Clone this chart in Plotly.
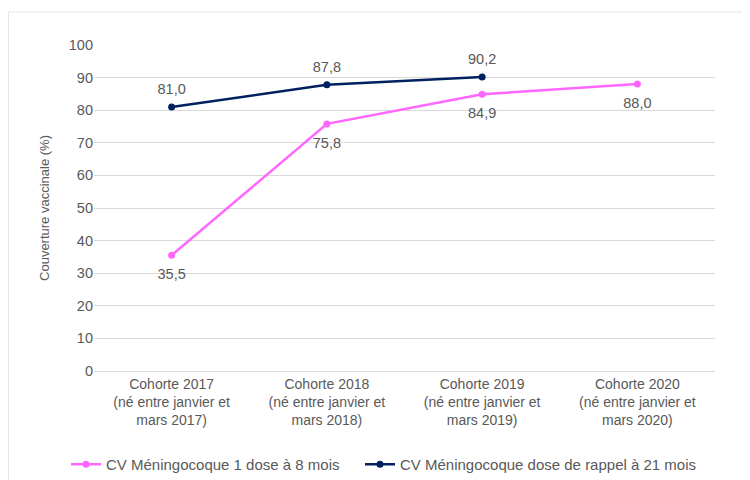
import plotly.graph_objects as go

categories = [
    "Cohorte 2017<br>(né entre janvier et<br>mars 2017)",
    "Cohorte 2018<br>(né entre janvier et<br>mars 2018)",
    "Cohorte 2019<br>(né entre janvier et<br>mars 2019)",
    "Cohorte 2020<br>(né entre janvier et<br>mars 2020)",
]
dose1_values = [35.5, 75.8, 84.9, 88.0]
rappel_categories = categories[:3]
rappel_values = [81.0, 87.8, 90.2]

def fr(v):
    return f"{v:.1f}".replace(".", ",")

font_color = "#595959"
fs = 14.5
PINK, NAVY = "#FF66FF", "#002060"
# page body has an 8px margin, so figure coordinates are offset by 8px
L, R, T, B = 86, 43, 37, 117
W, H = 750, 480
pw, ph = W - L - R, H - T - B
bottom = T + ph

fig = go.Figure()
fig.add_trace(go.Scatter(
    x=categories, y=dose1_values, mode="lines+markers",
    name="CV Méningocoque 1 dose à 8 mois", legend="legend",
    line=dict(color=PINK, width=2.5), marker=dict(size=7, color=PINK),
))
fig.add_trace(go.Scatter(
    x=rappel_categories, y=rappel_values, mode="lines+markers",
    name="CV Méningocoque dose de rappel à 21 mois", legend="legend2",
    line=dict(color=NAVY, width=2.5), marker=dict(size=7, color=NAVY),
))
# data labels (transparent markers to set the label offset)
fig.add_trace(go.Scatter(
    x=categories, y=dose1_values, mode="markers+text", showlegend=False,
    marker=dict(size=19, color="rgba(0,0,0,0)"), hoverinfo="skip",
    text=[fr(v) for v in dose1_values], textposition="bottom center",
    textfont=dict(size=fs, color=font_color),
))
fig.add_trace(go.Scatter(
    x=rappel_categories, y=rappel_values, mode="markers+text", showlegend=False,
    marker=dict(size=13, color="rgba(0,0,0,0)"), hoverinfo="skip",
    text=[fr(v) for v in rappel_values], textposition="top center",
    textfont=dict(size=fs, color=font_color),
))

legend_common = dict(orientation="h", xanchor="left",
                     y=-(440 - bottom) / ph, yanchor="top",
                     font=dict(size=15, color=font_color), itemwidth=30,
                     bgcolor="rgba(0,0,0,0)")

fig.update_layout(
    width=W, height=H,
    margin=dict(l=L, r=R, t=T, b=B, autoexpand=False),
    paper_bgcolor="white", plot_bgcolor="white",
    font=dict(family="Liberation Sans, Arial, sans-serif", size=fs, color=font_color),
    showlegend=True,
    legend=dict(x=(58 - L) / pw, **legend_common),
    legend2=dict(x=(352 - L) / pw, **legend_common),
    xaxis=dict(type="category", range=[-0.5, 3.5], showgrid=False,
               showline=True, linecolor="#d9d9d9", linewidth=1, ticks="",
               tickfont=dict(size=14, color=font_color)),
    yaxis=dict(range=[0, 100], dtick=10, showgrid=True, gridcolor="#d9d9d9",
               zeroline=False, ticks="", tickfont=dict(size=fs, color=font_color),
               title=dict(text="Couverture vaccinale (%)", font=dict(size=13, color=font_color),
                          standoff=16)),
)
fig.add_shape(type="rect", xref="paper", yref="paper",
              x0=(0.5 - L) / pw, x1=(770 - L) / pw,
              y0=-(500 - bottom) / ph, y1=(bottom - 4) / ph,
              line=dict(color="#e6e6e6", width=1), fillcolor="rgba(0,0,0,0)", layer="below")
fig.write_html("out.html")
